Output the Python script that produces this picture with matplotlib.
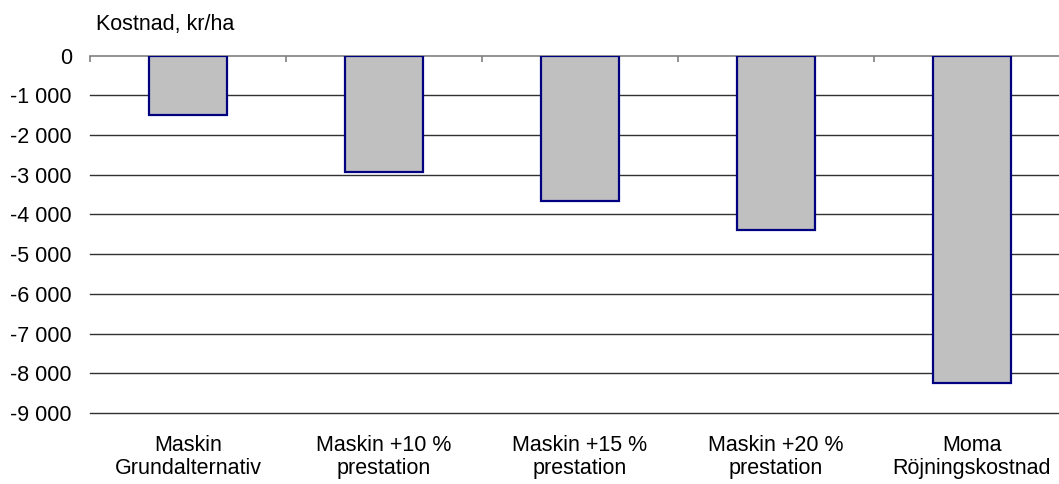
import matplotlib.pyplot as plt
import numpy as np

plt.rcParams['font.family'] = ['Liberation Sans', 'DejaVu Sans']

# Kostnad per alternativ
kategorier = ["Maskin\nGrundalternativ", "Maskin +10 %\nprestation",
              "Maskin +15 %\nprestation", "Maskin +20 %\nprestation",
              "Moma\nRöjningskostnad"]
kostnad = [-1490, -2930, -3660, -4400, -8240]
yticks = [0, -1000, -2000, -3000, -4000, -5000, -6000, -7000, -8000, -9000]

W, H = 1059, 484
fig = plt.figure(figsize=(W / 100, H / 100), dpi=100)
ax = fig.add_axes([90 / W, (H - 413) / H, 980 / W, 357.5 / H])

x = np.arange(len(kategorier))
ax.bar(x, kostnad, width=0.4, color='#c0c0c0', edgecolor='#000080',
       linewidth=1.6, zorder=3)

for v in yticks[1:]:
    ax.axhline(v, color='#303030', linewidth=1.0, zorder=1, clip_on=False)

ax.set_xlim(-0.5, len(kategorier) - 0.5)
ax.set_ylim(-9000, 0)

for side in ['left', 'right', 'bottom']:
    ax.spines[side].set_visible(False)
ax.spines['top'].set_color('#808080')
ax.spines['top'].set_linewidth(1.2)

# y-axel med mellanslag som tusentalsavgränsare
ax.set_yticks(yticks)
ax.set_yticklabels([f"{v:,}".replace(",", " ") for v in yticks])
ax.tick_params(axis='y', length=0, pad=13, labelsize=15.5)

# streck mellan kategorierna längs nollinjen
ax.xaxis.set_ticks_position('top')
ax.set_xticks(np.arange(-0.5, len(kategorier), 1.0))
ax.tick_params(axis='x', which='major', direction='in', length=4,
               color='#808080', width=1.2, labeltop=False, labelbottom=False)

# kategorinamn under diagrammet
label_y = -9000 - 22 * 9000 / 357.5
for xi, lab in zip(x, kategorier):
    ax.text(xi, label_y, lab, ha='center', va='top', fontsize=15.5,
            linespacing=1.1, clip_on=False)

fig.text(96 / W, 1 - 30 / H, "Kostnad, kr/ha", fontsize=15.5,
         ha='left', va='baseline')

fig.savefig('out.png', dpi=100)
